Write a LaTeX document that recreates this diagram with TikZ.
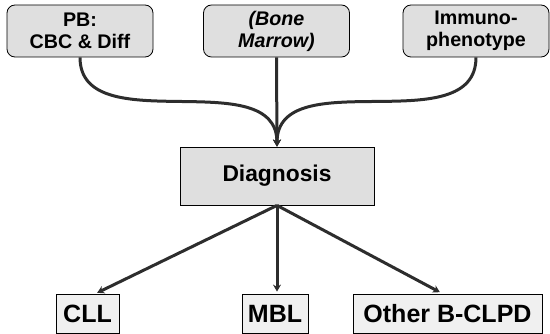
\documentclass[tikz,border=0pt]{standalone}
\usepackage{fontspec}
\setmainfont{Liberation Sans}
\usetikzlibrary{arrows.meta}
\begin{document}
\begin{tikzpicture}[x=1pt,y=-1pt,
  topbox/.style={draw=black, line width=0.8pt, fill=gray!25, rounded corners=8pt,
    align=center, inner sep=0pt, minimum width=146pt, minimum height=52pt,
    font=\fontsize{19.7}{22}\selectfont\bfseries},
  diagbox/.style={draw=black, line width=0.8pt, fill=gray!25, inner sep=0pt,
    minimum width=194pt, minimum height=58pt,
    font=\fontsize{22.8}{26}\selectfont\bfseries},
  endbox/.style={draw=black, line width=0.8pt, fill=gray!12, inner sep=0pt,
    minimum height=39pt, font=\fontsize{25}{28}\selectfont\bfseries},
  conn/.style={draw=gray!35!black, line width=3pt,
    -{Stealth[length=7pt,width=8pt]}}
]
\useasboundingbox (0,0) rectangle (550,334);
\node[topbox] (pb) at (80,31) {PB:\\CBC \& Diff};
\node[topbox, font=\fontsize{19.7}{22}\selectfont\bfseries\itshape] (bm) at (276.5,31) {(Bone\\Marrow)};
\node[topbox] (imm) at (476,31) {Immuno-\\phenotype};
\node[diagbox] (diag) at (277,176) {Diagnosis};
\node[endbox, minimum width=63pt] (cll) at (87.5,314) {CLL};
\node[endbox, minimum width=66pt] (mbl) at (275,313.5) {MBL};
\node[endbox, minimum width=189pt] (other) at (447.5,313.5) {Other B-CLPD};
\draw[conn] (pb.south) to[out=-90,in=90] (diag.north);
\draw[conn] (imm.south) to[out=-90,in=90] (diag.north);
\draw[conn] (bm.south) -- (diag.north);
\draw[conn, shorten >=3pt] (diag.south) -- ([xshift=7pt]cll.north);
\draw[conn, shorten >=2pt] (diag.south) -- ([xshift=2pt]mbl.north);
\draw[conn, shorten >=3pt] (diag.south) -- ([xshift=-5pt]other.north);
\end{tikzpicture}
\end{document}
